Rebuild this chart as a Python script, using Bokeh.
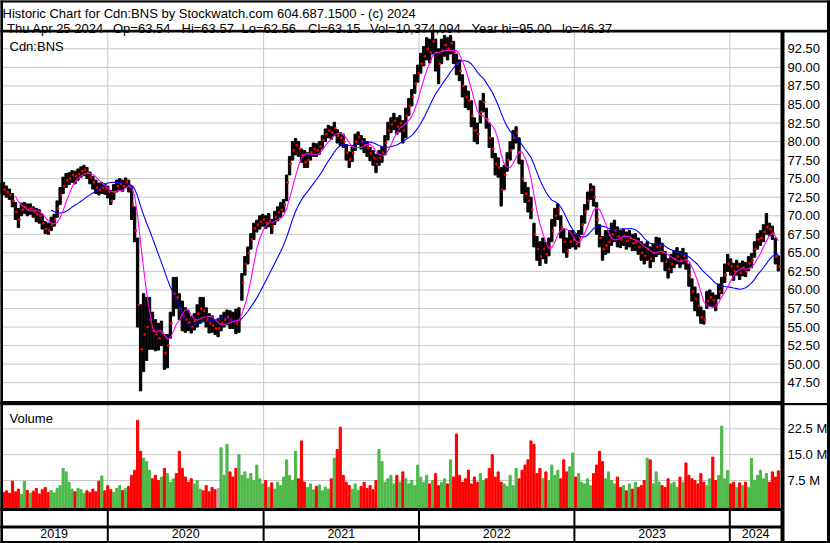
import pandas as pd
from bokeh.plotting import figure
from bokeh.models import Range1d, ColumnDataSource
from bokeh.core.properties import value
from bokeh.embed import file_html
from bokeh.resources import INLINE

# ---------------- data (weekly) ----------------
FIRST_WEEK = "2019-04-24"

close = [
    73.8, 73.5, 73.2, 72.8, 72.0, 70.5, 69.5, 70.8, 71.2, 70.8,
    71.0, 70.5, 70.2, 70.0, 69.0, 68.2, 68.0, 68.8, 69.5, 71.0,
    72.8, 74.0, 74.8, 75.0, 75.5, 75.3, 75.6, 76.0, 76.2, 75.8,
    75.2, 74.5, 73.8, 73.5, 73.8, 73.6, 73.2, 72.0, 73.2, 74.0,
    74.3, 74.0, 74.6, 74.0, 71.5, 68.0, 58.0, 52.0, 54.0, 55.0,
    56.0, 54.5, 54.0, 53.5, 54.2, 51.5, 52.5, 55.5, 59.5, 59.0,
    57.5, 56.5, 56.0, 55.6, 55.0, 55.8, 56.8, 57.5, 57.2, 56.0,
    55.5, 55.2, 54.8, 54.8, 55.5, 56.0, 56.3, 56.0, 55.8, 55.5,
    56.0, 61.0, 63.5, 65.0, 66.8, 68.3, 68.8, 69.2, 69.5, 69.0,
    69.3, 68.5, 69.8, 70.5, 70.8, 71.5, 74.5, 77.0, 78.8, 79.5,
    79.0, 78.2, 77.2, 77.5, 78.5, 79.0, 78.8, 79.3, 80.2, 81.0,
    81.5, 81.2, 81.8, 80.8, 80.5, 80.0, 78.5, 77.6, 78.5, 80.0,
    80.6, 80.0, 79.5, 79.2, 78.4, 77.8, 77.0, 77.8, 78.5, 79.8,
    81.5, 82.3, 82.8, 82.0, 82.5, 81.5, 83.5, 84.8, 86.0, 87.8,
    89.2, 90.5, 91.5, 92.5, 92.0, 93.5, 92.0, 90.5, 92.3, 93.0,
    92.5, 93.2, 92.0, 90.5, 89.5, 87.5, 86.0, 85.5, 83.5, 81.5,
    81.0, 84.0, 85.3, 83.0, 80.5, 79.0, 77.0, 76.5, 73.5, 75.5,
    77.5, 78.8, 80.5, 81.2, 78.5, 75.0, 73.0, 72.0, 70.8, 67.5,
    65.5, 64.5, 65.5, 64.8, 65.8, 68.0, 70.0, 70.8, 68.5, 66.5,
    65.2, 66.5, 66.8, 66.2, 67.0, 68.8, 70.5, 72.0, 73.5, 72.5,
    69.5, 67.0, 65.5, 66.0, 66.5, 67.5, 68.0, 67.2, 66.8, 67.3,
    66.6, 67.0, 66.3, 66.5, 65.8, 65.0, 64.6, 65.5, 64.2, 65.0,
    65.8, 66.0, 65.0, 63.8, 62.8, 63.5, 64.2, 64.5, 64.0, 64.6,
    63.8, 62.0, 59.8, 58.8, 57.8, 56.3, 56.0, 58.5, 59.0, 58.6,
    58.0, 59.8, 60.5, 62.0, 63.5, 63.2, 62.5, 63.2, 62.3, 63.0,
    62.5, 63.6, 64.0, 65.5, 66.8, 67.0, 67.8, 68.5, 68.2, 67.6,
    64.5, 63.15,
]

high = [
    74.5, 74.5, 74.0, 73.6, 73.0, 71.8, 71.0, 71.7, 71.8, 71.6,
    71.6, 71.2, 71.0, 70.8, 70.2, 69.2, 69.0, 69.8, 70.2, 72.0,
    73.8, 75.2, 75.7, 75.8, 76.1, 76.0, 76.3, 76.6, 76.8, 76.5,
    75.9, 75.3, 74.8, 74.4, 74.5, 74.3, 74.0, 73.4, 74.2, 74.8,
    75.0, 74.8, 75.1, 74.8, 74.0, 71.2, 67.0, 58.0, 59.5, 59.0,
    59.0, 57.0, 56.0, 55.5, 55.8, 54.0, 54.0, 57.0, 61.7, 61.7,
    59.5, 58.5, 57.6, 57.2, 56.4, 56.8, 58.0, 59.0, 59.0, 57.6,
    56.8, 56.5, 56.0, 56.0, 56.6, 57.0, 57.3, 57.2, 57.0, 57.4,
    57.6, 62.2, 64.5, 65.8, 67.6, 69.0, 69.4, 70.0, 70.2, 70.0,
    70.3, 69.5, 70.6, 71.2, 71.8, 72.2, 75.5, 78.0, 80.0, 80.4,
    80.0, 79.0, 78.8, 78.5, 79.2, 79.8, 79.7, 80.0, 80.8, 81.7,
    82.2, 82.0, 82.6, 81.6, 81.2, 81.0, 79.6, 78.6, 79.3, 81.0,
    81.3, 80.8, 80.4, 80.0, 79.2, 78.8, 78.3, 78.8, 79.3, 80.8,
    82.6, 83.2, 83.8, 83.2, 83.5, 82.8, 84.5, 85.8, 87.0, 89.0,
    90.3, 91.9, 92.8, 94.0, 93.8, 95.0, 93.8, 92.5, 93.8, 94.3,
    94.0, 94.3, 93.5, 91.8, 91.0, 89.0, 87.5, 86.8, 85.5, 83.2,
    82.5, 85.5, 86.5, 84.5, 82.5, 80.5, 78.4, 77.8, 76.5, 76.8,
    78.5, 80.0, 81.5, 82.0, 80.5, 77.5, 74.5, 73.8, 72.5, 69.0,
    67.2, 66.5, 67.0, 66.4, 67.0, 69.5, 71.0, 71.6, 70.0, 68.2,
    67.0, 68.0, 68.0, 67.5, 68.0, 70.0, 71.5, 73.2, 74.3, 74.0,
    71.8, 68.8, 67.2, 68.0, 68.0, 69.0, 69.4, 68.5, 68.0, 68.2,
    67.8, 68.0, 67.5, 67.6, 67.0, 66.5, 66.2, 66.5, 65.8, 66.2,
    67.1, 67.0, 66.3, 65.2, 64.2, 64.8, 65.3, 65.7, 65.2, 65.6,
    65.0, 63.5, 61.5, 60.4, 59.5, 57.7, 57.2, 59.8, 60.0, 59.6,
    59.3, 60.8, 61.7, 63.5, 64.8, 64.2, 63.6, 64.0, 63.6, 63.9,
    63.7, 64.5, 64.9, 66.5, 67.6, 68.0, 68.8, 70.3, 69.0, 68.6,
    67.0, 64.6,
]

low = [
    73.0, 72.8, 72.5, 72.2, 71.2, 69.5, 68.4, 70.0, 70.3, 70.0,
    70.2, 69.8, 69.2, 69.0, 68.2, 67.6, 67.5, 68.0, 68.6, 69.8,
    71.5, 73.0, 73.8, 74.2, 74.5, 74.3, 74.8, 75.2, 75.4, 75.0,
    74.3, 73.6, 73.0, 72.8, 73.0, 72.9, 72.4, 71.5, 72.2, 73.2,
    73.5, 73.3, 73.8, 73.2, 69.5, 66.5, 55.0, 46.4, 49.0, 50.5,
    52.0, 52.0, 51.8, 51.9, 52.5, 49.3, 49.5, 53.5, 56.5, 57.5,
    56.0, 54.5, 54.3, 54.5, 54.2, 54.6, 55.0, 55.5, 55.8, 55.0,
    54.2, 54.3, 54.0, 53.7, 54.5, 55.0, 55.3, 54.8, 54.8, 54.1,
    54.3, 58.6, 62.0, 63.5, 65.5, 66.8, 67.8, 68.2, 68.6, 68.3,
    68.5, 67.6, 68.8, 69.3, 69.8, 70.5, 72.0, 75.5, 77.5, 78.2,
    78.0, 77.2, 76.5, 76.5, 77.5, 78.0, 78.0, 78.3, 79.0, 80.0,
    80.5, 80.3, 80.8, 79.8, 79.5, 79.2, 77.5, 76.5, 77.3, 78.8,
    79.6, 79.0, 78.5, 78.0, 77.4, 76.8, 75.8, 76.8, 77.2, 78.2,
    80.2, 81.2, 81.6, 81.0, 81.3, 79.8, 80.5, 83.5, 84.8, 86.5,
    88.0, 89.2, 90.2, 91.0, 90.6, 91.8, 89.5, 87.8, 90.5, 91.5,
    91.0, 91.8, 90.5, 89.0, 88.2, 86.0, 84.6, 84.3, 82.0, 80.0,
    79.7, 82.5, 84.0, 81.8, 79.2, 77.8, 75.5, 75.2, 71.3, 73.5,
    76.0, 77.5, 79.0, 79.8, 77.0, 73.0, 71.8, 70.5, 69.6, 65.8,
    64.0, 63.3, 64.2, 63.6, 64.6, 66.5, 68.6, 69.5, 67.0, 65.0,
    64.4, 65.6, 65.8, 65.5, 65.8, 67.5, 69.0, 70.8, 72.2, 71.3,
    67.5, 65.8, 64.0, 64.8, 65.0, 66.0, 66.5, 65.8, 65.7, 66.0,
    65.5, 65.8, 65.3, 65.3, 64.8, 64.0, 63.5, 64.0, 63.0, 63.8,
    64.5, 64.8, 63.8, 62.6, 61.6, 62.3, 63.0, 63.5, 63.0, 63.5,
    62.8, 60.5, 58.5, 57.2, 56.5, 55.5, 55.4, 57.5, 57.8, 57.7,
    57.2, 58.8, 59.5, 61.0, 62.5, 62.0, 61.3, 62.0, 61.4, 61.9,
    61.8, 62.6, 63.0, 64.4, 65.5, 66.0, 66.5, 67.5, 67.3, 66.8,
    63.5, 62.56,
]

volume_m = [
    5.5, 4.0, 4.5, 3.8, 7.3, 4.2, 5.0, 3.5, 7.3, 4.6,
    3.8, 4.4, 5.2, 3.6, 4.8, 5.5, 4.0, 4.6, 3.9, 5.2,
    6.0, 11.0, 10.0, 7.0, 5.0, 4.2, 5.2, 4.8, 3.8, 4.5,
    4.0, 5.0, 4.2, 7.3, 8.8, 4.5, 6.0, 4.8, 4.0, 5.2,
    6.0, 4.6, 5.2, 5.8, 9.0, 10.5, 25.0, 16.0, 14.0, 13.0,
    10.5, 8.0, 9.0, 7.5, 8.5, 11.0, 9.5, 7.0, 8.0, 9.5,
    16.0, 11.0, 8.5, 7.0, 8.0, 6.5, 7.5, 5.0, 4.5, 6.0,
    4.2, 5.5, 4.8, 5.2, 17.0, 9.0, 18.0, 10.0, 8.5, 11.0,
    15.0, 9.0, 10.0, 8.0, 9.5, 7.5, 12.0, 8.0, 6.5, 7.5,
    5.5, 6.8, 5.0, 7.0, 6.0, 8.5, 13.5, 9.0, 7.5, 16.0,
    8.0, 19.0, 7.0, 5.5, 6.5, 4.8, 5.8, 6.2, 4.5, 5.6,
    5.0, 8.0, 14.0, 16.5, 23.0, 9.0, 7.0, 6.0, 5.0, 6.5,
    4.6, 5.8, 7.0, 5.2, 6.0, 4.8, 7.5, 16.5, 13.0, 7.0,
    8.0, 9.0, 6.5, 9.0, 7.0, 10.0, 8.0, 6.5, 7.5, 6.0,
    12.0, 8.5, 7.0, 9.0, 6.5, 7.5, 9.5, 6.0, 7.0, 8.0,
    6.5, 13.5, 8.5, 21.0, 9.0, 7.0, 8.0, 10.5, 6.5, 8.5,
    7.0, 9.5, 7.5, 8.0, 11.0, 15.0, 8.5, 10.0, 7.0, 6.5,
    5.8, 9.0, 6.0, 11.0, 8.0, 10.5, 12.0, 13.5, 19.0, 18.0,
    9.5, 11.0, 8.0, 10.0, 7.5, 12.0, 9.0, 10.5, 8.0, 13.5,
    10.0, 11.5, 15.5, 8.5, 9.5, 7.0, 6.5, 8.0, 6.0, 9.5,
    12.0, 16.0, 13.0, 8.0, 10.0, 7.5, 6.5, 8.5, 5.5, 6.0,
    4.5, 6.5, 5.0, 7.0, 5.5, 6.0, 7.5, 14.0, 13.5, 6.5,
    10.0, 7.0, 6.0, 5.5, 8.0, 6.5, 7.0, 5.5, 8.5, 7.0,
    12.6, 9.0, 8.0, 7.5, 6.5, 9.5, 7.0, 6.0, 8.0, 14.3,
    7.5, 9.0, 23.3, 8.0, 10.4, 6.5, 7.0, 5.5, 6.8, 6.0,
    7.0, 5.5, 13.9, 7.5, 9.0, 10.5, 8.0, 9.5, 7.0, 10.0,
    8.5, 10.3,
]

price_ticks = [47.5, 50.0, 52.5, 55.0, 57.5, 60.0, 62.5, 65.0, 67.5, 70.0,
               72.5, 75.0, 77.5, 80.0, 82.5, 85.0, 87.5, 90.0, 92.5]
volume_ticks = [7.5, 15.0, 22.5]
year_labels = ["2019", "2020", "2021", "2022", "2023", "2024"]
year_starts = ["2020-01-01", "2021-01-01", "2022-01-01", "2023-01-01", "2024-01-01"]

title_line = "Historic Chart for Cdn:BNS by Stockwatch.com 604.687.1500 - (c) 2024"
quote_fields = ["Thu Apr 25 2024", "Op=63.54", "Hi=63.57", "Lo=62.56", "Cl=63.15",
                "Vol=10,374,094", "Year hi=95.00", "lo=46.37"]
symbol_label = "Cdn:BNS"
volume_label = "Volume"

SHORT_MA_WEEKS = 6
LONG_MA_WEEKS = 18

# ---------------- layout constants (page pixels) ----------------
FONT = "Liberation Sans"
W, H = 830, 543
PX_PER_DAY = 0.425736          # time scale
X_2020 = 107.3                 # page x of 2020-01-01
PANEL_R = 781                  # right edge of the plotting panels
PRICE_TOP, PRICE_BOT = 31, 401
VOL_TOP, VOL_BOT = 404, 509
BOTTOM = 541
PX_PER_UNIT = 7.42             # price scale
Y_9250 = 48.3
PX_PER_M = 3.44                # volume scale
Y_VOL0 = 505.8
GRID_COLOR = "#c8c8c8"
GREEN = "#4cb848"
RED = "#ff0000"
LABEL_X = 787

DATE0 = pd.Timestamp("2020-01-01") - pd.Timedelta(days=X_2020 / PX_PER_DAY)


def px_date(px):
    return DATE0 + pd.Timedelta(days=px / PX_PER_DAY)


# ranges chosen so that every scale maps onto the page pixels of the panels
date_range = Range1d(px_date(0), px_date(W))
price_range = Range1d(92.5 - (H - Y_9250) / PX_PER_UNIT, 92.5 + Y_9250 / PX_PER_UNIT)
vol_range = Range1d(-(H - Y_VOL0) / PX_PER_M, Y_VOL0 / PX_PER_M)
V_BASE = -(VOL_BOT - Y_VOL0) / PX_PER_M

dates = pd.date_range(FIRST_WEEK, periods=len(close), freq="7D")
year_ts = [pd.Timestamp(s) for s in year_starts]

cs = pd.Series(close)
ma_short = cs.rolling(SHORT_MA_WEEKS).mean()
ma_long = cs.rolling(LONG_MA_WEEKS).mean()
colors = [GREEN] + [GREEN if close[i] > close[i - 1] else (RED if close[i] < close[i - 1] else "#a8a8a8")
                    for i in range(1, len(close))]

src = ColumnDataSource(dict(
    x=dates, xc=dates + pd.Timedelta(days=2.5), hi=high, lo=low, close=close,
    ma_s=ma_short.values, ma_l=ma_long.values, vol=volume_m, color=colors))

p = figure(width=W, height=H, x_range=Range1d(0, W), y_range=Range1d(H, 0),
           x_axis_location=None, y_axis_location=None, outline_line_color=None,
           min_border=0, output_backend="svg", toolbar_location=None)
p.grid.visible = False
p.extra_x_ranges = {"date": date_range}
p.extra_y_ranges = {"price": price_range, "vol": vol_range}

TXT = dict(text_font=value(FONT), text_font_size="13px", text_color="black")

# ---- grid lines ----
n_pt = len(price_ticks)
p.segment(x0=[2] * n_pt, x1=[PANEL_R] * n_pt, y0=price_ticks, y1=price_ticks,
          y_range_name="price", color=GRID_COLOR, line_width=1)
n_vt = len(volume_ticks)
p.segment(x0=[2] * n_vt, x1=[PANEL_R] * n_vt, y0=volume_ticks, y1=volume_ticks,
          y_range_name="vol", color=GRID_COLOR, line_width=1)
n_y = len(year_ts)
p.segment(x0=year_ts, x1=year_ts, y0=[PRICE_TOP] * n_y, y1=[PRICE_BOT] * n_y,
          x_range_name="date", color=GRID_COLOR, line_width=1)
p.segment(x0=year_ts, x1=year_ts, y0=[VOL_TOP] * n_y, y1=[VOL_BOT] * n_y,
          x_range_name="date", color=GRID_COLOR, line_width=1)

# ---- price bars, closes, moving averages ----
DAY_MS = 86400000
p.vbar(x="x", top="hi", bottom="lo", width=5.5 * DAY_MS, color="black", source=src,
       x_range_name="date", y_range_name="price")
p.rect(x="xc", y="close", width=1.5, height=1.6, width_units="screen", height_units="screen",
       color=RED, source=src, x_range_name="date", y_range_name="price")
p.line(x="x", y="ma_l", color="#0000ff", line_width=1.1, source=src,
       x_range_name="date", y_range_name="price")
p.line(x="x", y="ma_s", color="#ff00ff", line_width=1.1, source=src,
       x_range_name="date", y_range_name="price")

# ---- volume bars ----
p.vbar(x="x", top="vol", bottom=V_BASE, width=5 * DAY_MS, color="color", source=src,
       x_range_name="date", y_range_name="vol")

# ---- frame lines ----
BLACK = "black"
p.quad(left=[0, W - 3, 0, 0, 0, 0, 0, 0, PANEL_R - 0.5],
       right=[2, W - 1, W, W, PANEL_R, W, PANEL_R, PANEL_R, PANEL_R + 2.5],
       top=[0, 0, 0, 29.8, 401, 403, 508, 525.5, PRICE_TOP],
       bottom=[H, H, 1.5, 31.5, 402.2, 404.2, 510, 527.5, BOTTOM],
       color=BLACK)
p.quad(left=[0], right=[W], top=[BOTTOM], bottom=[H], color=BLACK)
p.segment(x0=year_ts, x1=year_ts, y0=[VOL_BOT] * n_y, y1=[BOTTOM] * n_y,
          x_range_name="date", color=BLACK, line_width=2)

# ---- texts ----
p.text(x=[2], y=[12.8], text=[title_line], text_baseline="alphabetic", **TXT)
quote_x = [6.5, 112.5, 181, 241, 307.5, 369.5, 471, 561.5]
p.text(x=quote_x, y=[27.6] * len(quote_fields), text=quote_fields, text_baseline="alphabetic", **TXT)
p.text(x=[9], y=[46], text=[symbol_label], text_baseline="alphabetic", **TXT)
p.text(x=[9], y=[418.3], text=[volume_label], text_baseline="alphabetic", **TXT)

p.text(x=[LABEL_X] * n_pt, y=price_ticks, text=[f"{t:.2f}" for t in price_ticks],
       y_range_name="price", text_baseline="middle", **TXT)
p.text(x=[LABEL_X] * n_vt, y=volume_ticks, text=[f"{t:.1f} M" for t in volume_ticks],
       y_range_name="vol", text_baseline="middle", **TXT)

cell_lo = [dates[0]] + year_ts
cell_hi = year_ts + [px_date(PANEL_R)]
centers = [a + (b - a) / 2 for a, b in zip(cell_lo, cell_hi)]
p.text(x=centers, y=[533.2] * len(centers), text=year_labels, x_range_name="date",
       text_align="center", text_baseline="middle",
       text_font=value(FONT), text_font_size="12.5px", text_color="black")

open("out.html", "w").write(file_html(p, INLINE))
